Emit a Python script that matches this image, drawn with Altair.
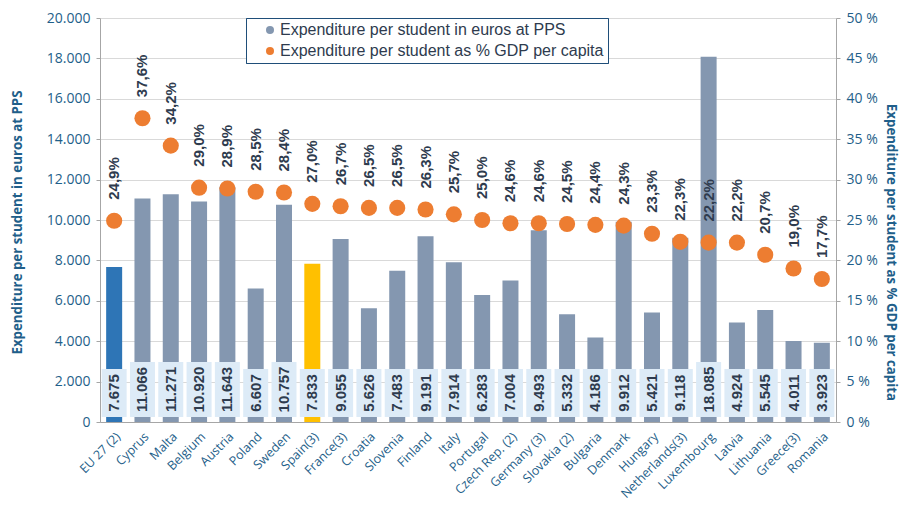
import altair as alt
import pandas as pd

countries = ["EU 27 (2)", "Cyprus", "Malta", "Belgium", "Austria", "Poland", "Sweden",
             "Spain(3)", "France(3)", "Croatia", "Slovenia", "Finland", "Italy", "Portugal",
             "Czech Rep. (2)", "Germany (3)", "Slovakia (2)", "Bulgaria", "Denmark", "Hungary",
             "Netherlands(3)", "Luxembourg", "Latvia", "Lithuania", "Greece(3)", "Romania"]
eur_pps = [7675, 11066, 11271, 10920, 11643, 6607, 10757, 7833, 9055, 5626, 7483, 9191, 7914,
           6283, 7004, 9493, 5332, 4186, 9912, 5421, 9118, 18085, 4924, 5545, 4011, 3923]
pct_gdp = [24.9, 37.6, 34.2, 29.0, 28.9, 28.5, 28.4, 27.0, 26.7, 26.5, 26.5, 26.3, 25.7, 25.0,
           24.6, 24.6, 24.5, 24.4, 24.3, 23.3, 22.3, 22.2, 22.2, 20.7, 19.0, 17.7]
highlight = ["eu"] + ["other"] * 6 + ["spain"] + ["other"] * 18

S1 = "Expenditure per student in euros at PPS"
S2 = "Expenditure per student as % GDP per capita"

df = pd.DataFrame({"country": countries, "eur": eur_pps, "pct": pct_gdp, "kind": highlight})

BLUE = "#1F5F8A"
TXT = "#2E3B4E"
GRID = "#D9D9D9"
AXL = "#A6A6A6"

x = alt.X("country:N", sort=countries,
          scale=alt.Scale(paddingInner=0, paddingOuter=0),
          axis=alt.Axis(title=None, labelAngle=-45, labelAlign="right", labelBaseline="top",
                        ticks=False, tickSize=0, labelPadding=8, labelFont="Open Sans",
                        labelFontSize=12.5, labelColor=BLUE, domainColor=AXL, grid=False,
                        labelOverlap=False, labelBound=False))

yL = alt.Scale(domain=[0, 20000], nice=False)
yR = alt.Scale(domain=[0, 50], nice=False)

axL = alt.Axis(title=S1, titleFont="Open Sans", titleFontSize=13.3, titleFontWeight="bold",
               titleColor=BLUE, titleX=-83, titleY=204, titleAngle=270,
               titleAlign="center", titleBaseline="middle",
               values=list(range(0, 20001, 2000)),
               labelExpr="datum.value == 0 ? '0' : replace(format(datum.value, ','), ',', '.')",
               labelFont="Open Sans", labelFontSize=14, labelColor=BLUE,
               tickColor=AXL, tickSize=4, domainColor=AXL, gridColor=GRID,
               labelPadding=6, grid=True, orient="left")

axR = alt.Axis(orient="right", title=S2, titleFont="Open Sans", titleFontSize=13.3,
               titleFontWeight="bold", titleColor=BLUE, titleX=54, titleY=234,
               titleAngle=90, titleAlign="center", titleBaseline="middle",
               values=list(range(0, 51, 5)),
               labelExpr="datum.value + ' %'",
               labelFont="Open Sans", labelFontSize=14, labelColor=BLUE,
               tickColor=AXL, tickSize=4, domainColor=AXL, grid=False,
               labelPadding=6)

base = alt.Chart(df).transform_calculate(
    label="replace(format(datum.eur, ','), ',', '.')"
).transform_calculate(
    lo="250",
    hi="900 + 345 * length(datum.label)",
).transform_calculate(
    mid="(datum.lo + datum.hi) / 2",
    plabel="replace(format(datum.pct, '.1f'), '.', ',') + '%'",
    series=f"'{S2}'",
)

bars = base.mark_bar(size=16).encode(
    x=x,
    y=alt.Y("eur:Q", scale=yL, axis=axL),
    color=alt.Color("kind:N", scale=alt.Scale(domain=["eu", "other", "spain"],
                                              range=["#2E75B6", "#8497B0", "#FFC000"]),
                    legend=None),
)

boxes = base.mark_bar(size=25, color="#DDEBF7").encode(
    x=x,
    y=alt.Y("lo:Q", scale=yL, axis=axL),
    y2="hi:Q",
)

valtext = base.mark_text(angle=270, align="center", baseline="middle", font="Liberation Sans",
                         fontSize=15, fontWeight="bold", color=TXT).encode(
    x=x,
    y=alt.Y("mid:Q", scale=yL, axis=axL),
    text="label:N",
)

leg = alt.Legend(title=None, orient="none", legendX=146, legendY=0, direction="vertical",
                 strokeColor="#1F4E79", fillColor="white", padding=4, rowPadding=5,
                 symbolOffset=12, symbolSize=64, labelFont="Liberation Sans", labelFontSize=16,
                 labelColor=TXT, labelLimit=500, labelOffset=2)

points = base.mark_point(filled=True, size=260, opacity=1).encode(
    x=x,
    y=alt.Y("pct:Q", scale=yR, axis=axR),
    color=alt.Color("series:N", scale=alt.Scale(domain=[S1, S2], range=["#8497B0", "#ED7D31"]),
                    legend=leg),
    shape=alt.Shape("series:N", scale=alt.Scale(domain=[S1, S2], range=["square", "circle"]),
                    legend=leg),
)

pcttext = base.mark_text(angle=270, align="left", baseline="middle", dx=21,
                         font="Liberation Sans", fontSize=15, fontWeight="bold", color=TXT).encode(
    x=x,
    y=alt.Y("pct:Q", scale=yR, axis=axR),
    text="plabel:N",
)

left = alt.layer(bars, boxes, valtext)
right = alt.layer(points, pcttext)

chart = alt.layer(left, right).resolve_scale(
    y="independent", color="independent"
).properties(
    width=736, height=404,
    autosize=alt.AutoSizeParams(type="none"),
    padding={"left": 92, "top": 10, "right": 64, "bottom": 76},
).configure_view(stroke=None)

chart.save("out.html", embed_options={"renderer": "svg", "actions": False})
